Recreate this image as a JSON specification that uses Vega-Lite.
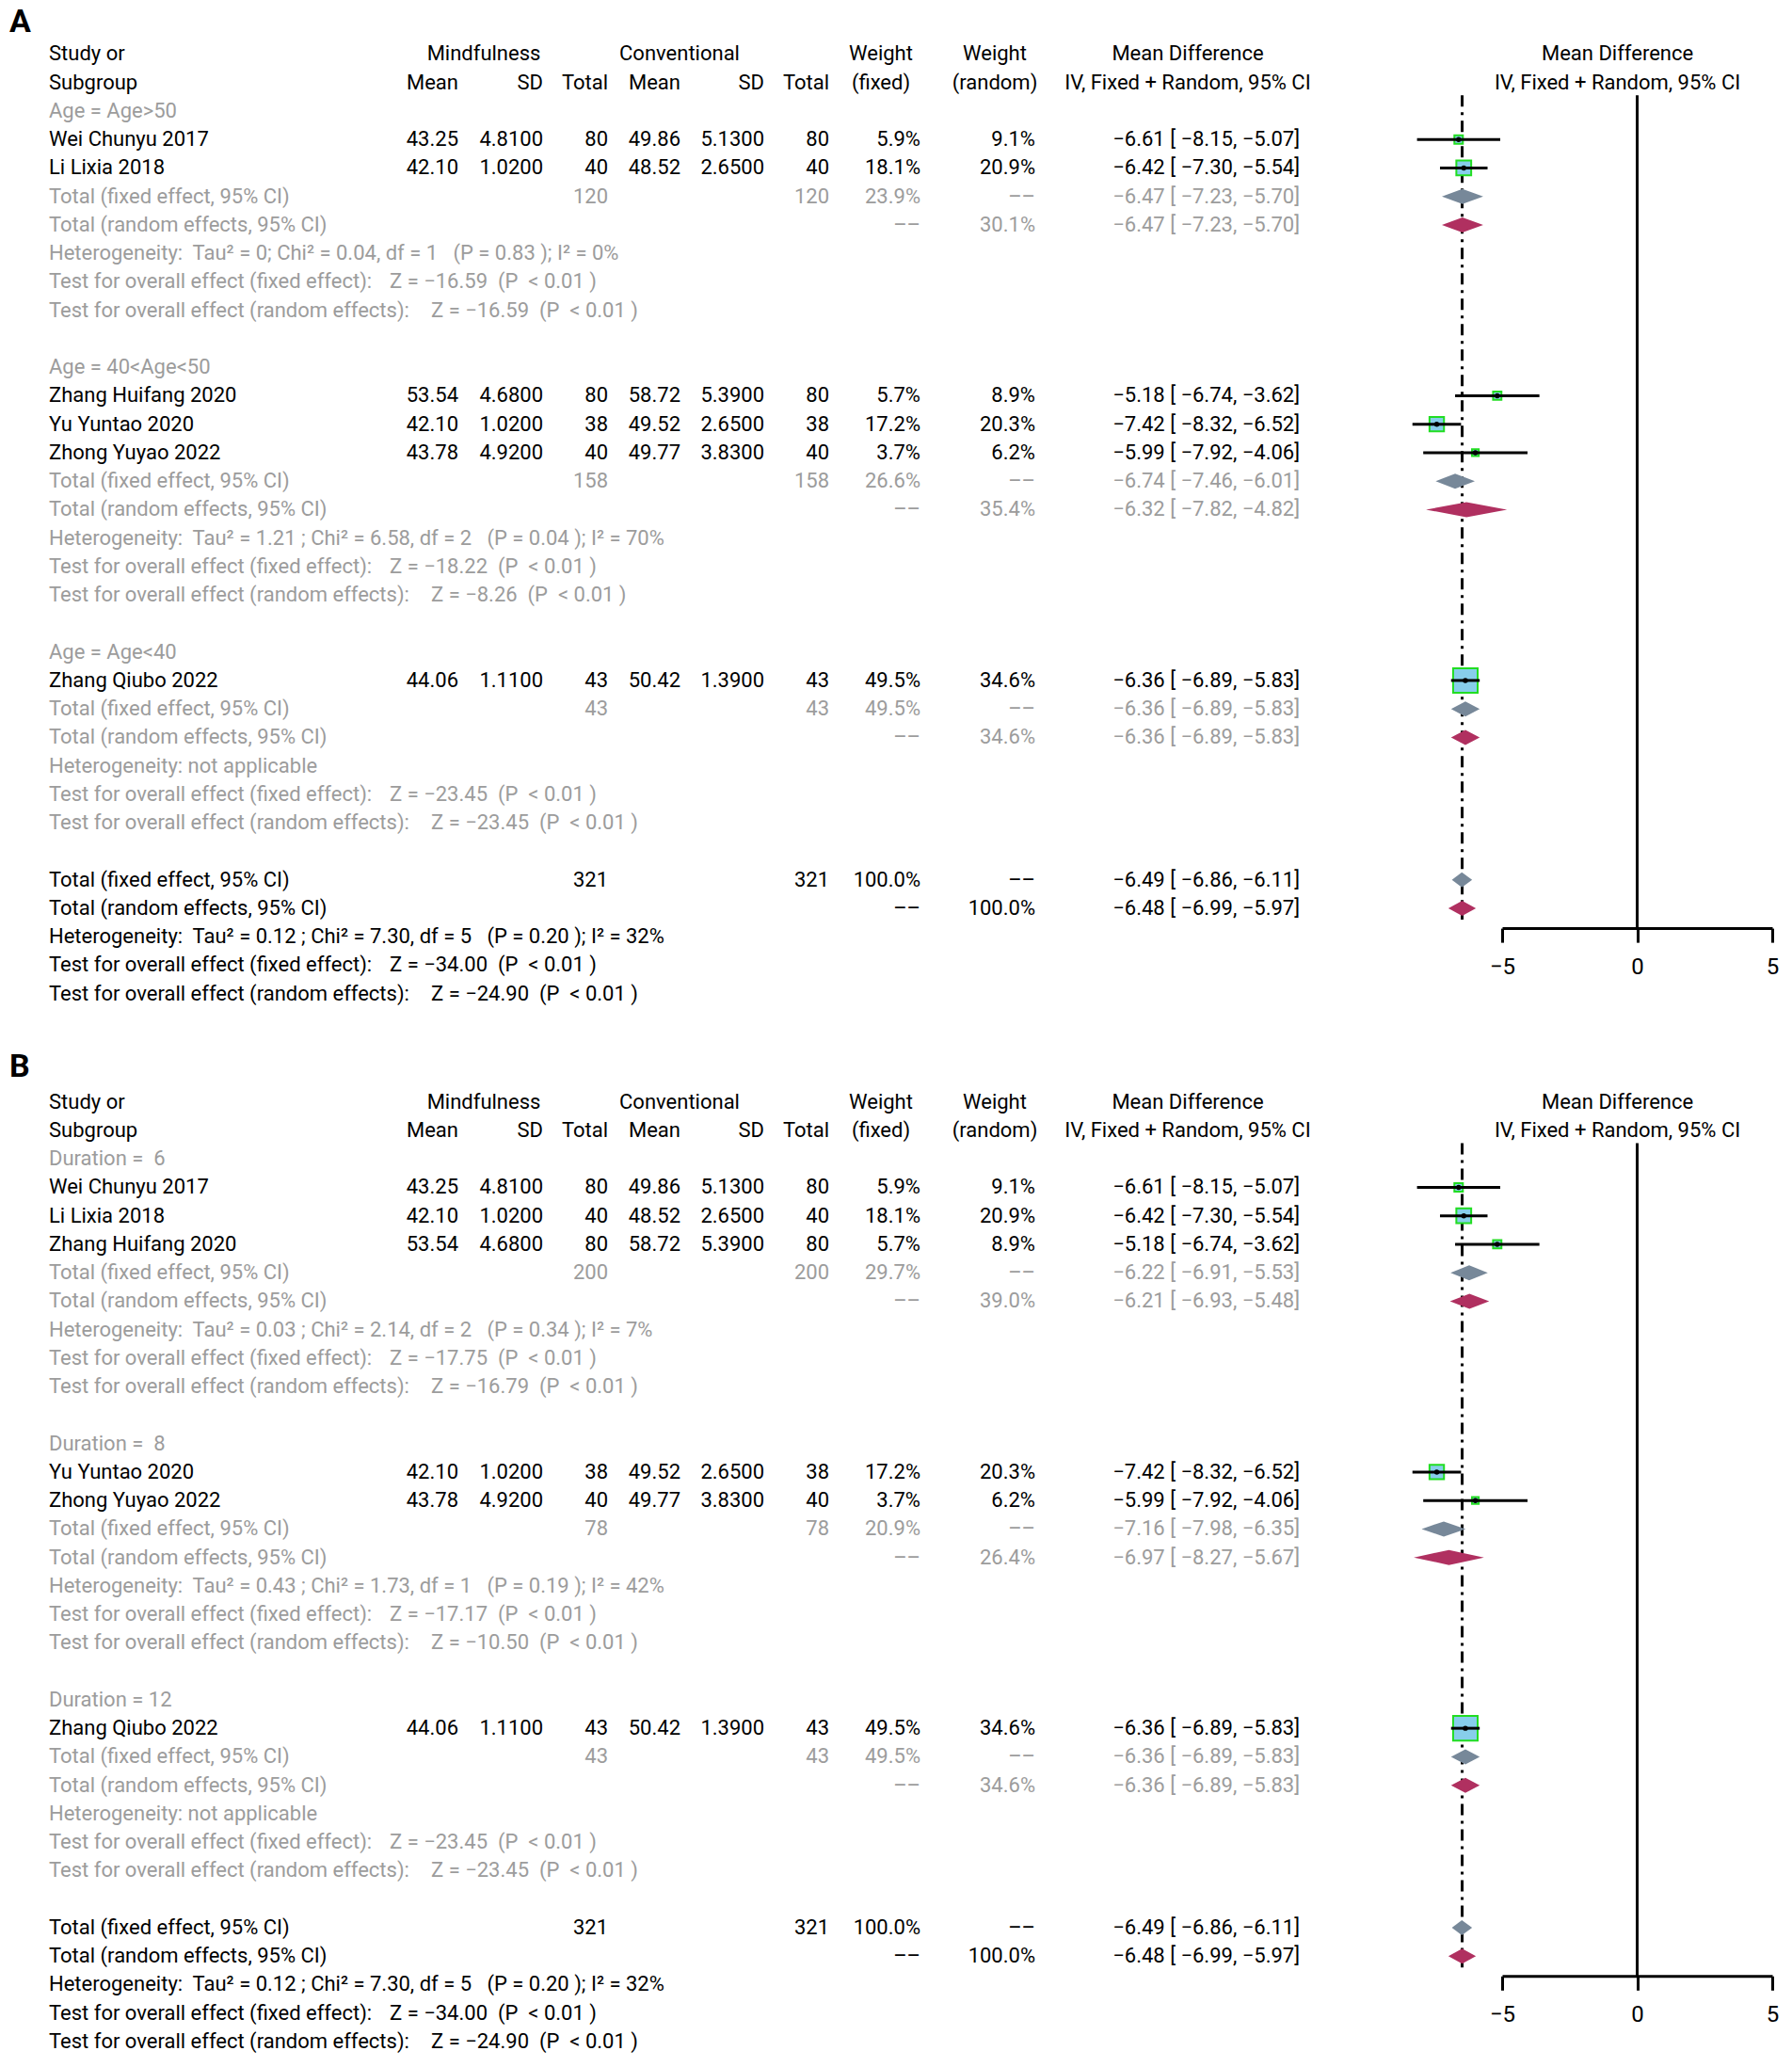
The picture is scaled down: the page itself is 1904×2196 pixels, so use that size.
{
  "$schema": "https://vega.github.io/schema/vega-lite/v6.json",
  "padding": {"left": 0, "top": 3, "right": 5, "bottom": 5},
  "spacing": 45.2,
  "resolve": {"scale": {"color": "independent", "fill": "independent"}},
  "config": {"view": {"stroke": null}, "font": "Roboto", "text": {"font": "Roboto", "fontSize": 22}},
  "datasets": {
    "t": [
      {"p":"A","r":-1.1,"k":"hdr","lbl":"A"},
      {"p":"A","r":0,"k":"hdr","s":"Study or","hm":"Mindfulness","hc":"Conventional","hwf":"Weight","hwr":"Weight","hci":"Mean Difference","hp":"Mean Difference"},
      {"p":"A","r":1,"k":"hdr","s":"Subgroup","m1":"Mean","sd1":"SD","n1":"Total","m2":"Mean","sd2":"SD","n2":"Total","hwf":"(fixed)","hwr":"(random)","hci":"IV, Fixed + Random, 95% CI","hp":"IV, Fixed + Random, 95% CI"},
      {"p":"A","r":2,"k":"lab","s":"Age = Age>50"},
      {"p":"A","r":3,"k":"study","s":"Wei Chunyu 2017","m1":"43.25","sd1":"4.8100","n1":"80","m2":"49.86","sd2":"5.1300","n2":"80","wf":"5.9%","wr":"9.1%","ci":"−6.61 [ −8.15, −5.07]","est":-6.61,"lo":-8.15,"hi":-5.07,"w":5.9},
      {"p":"A","r":4,"k":"study","s":"Li Lixia 2018","m1":"42.10","sd1":"1.0200","n1":"40","m2":"48.52","sd2":"2.6500","n2":"40","wf":"18.1%","wr":"20.9%","ci":"−6.42 [ −7.30, −5.54]","est":-6.42,"lo":-7.30,"hi":-5.54,"w":18.1},
      {"p":"A","r":5,"k":"sub","ty":"fixed","s":"Total (fixed effect, 95% CI)","n1":"120","n2":"120","wf":"23.9%","wr":"––","ci":"−6.47 [ −7.23, −5.70]","est":-6.47,"lo":-7.23,"hi":-5.70},
      {"p":"A","r":6,"k":"sub","ty":"random","s":"Total (random effects, 95% CI)","wf":"––","wr":"30.1%","ci":"−6.47 [ −7.23, −5.70]","est":-6.47,"lo":-7.23,"hi":-5.70},
      {"p":"A","r":7,"k":"sub","s":"Heterogeneity:\u00a0 Tau² = 0; Chi² = 0.04, df = 1\u00a0\u00a0 (P = 0.83 ); I² = 0%"},
      {"p":"A","r":8,"k":"sub","s":"Test for overall effect (fixed effect):","zf":"Z = −16.59\u00a0 (P\u00a0 < 0.01 )"},
      {"p":"A","r":9,"k":"sub","s":"Test for overall effect (random effects):","zr":"Z = −16.59\u00a0 (P\u00a0 < 0.01 )"},
      {"p":"A","r":11,"k":"lab","s":"Age = 40<Age<50"},
      {"p":"A","r":12,"k":"study","s":"Zhang Huifang 2020","m1":"53.54","sd1":"4.6800","n1":"80","m2":"58.72","sd2":"5.3900","n2":"80","wf":"5.7%","wr":"8.9%","ci":"−5.18 [ −6.74, −3.62]","est":-5.18,"lo":-6.74,"hi":-3.62,"w":5.7},
      {"p":"A","r":13,"k":"study","s":"Yu Yuntao 2020","m1":"42.10","sd1":"1.0200","n1":"38","m2":"49.52","sd2":"2.6500","n2":"38","wf":"17.2%","wr":"20.3%","ci":"−7.42 [ −8.32, −6.52]","est":-7.42,"lo":-8.32,"hi":-6.52,"w":17.2},
      {"p":"A","r":14,"k":"study","s":"Zhong Yuyao 2022","m1":"43.78","sd1":"4.9200","n1":"40","m2":"49.77","sd2":"3.8300","n2":"40","wf":"3.7%","wr":"6.2%","ci":"−5.99 [ −7.92, −4.06]","est":-5.99,"lo":-7.92,"hi":-4.06,"w":3.7},
      {"p":"A","r":15,"k":"sub","ty":"fixed","s":"Total (fixed effect, 95% CI)","n1":"158","n2":"158","wf":"26.6%","wr":"––","ci":"−6.74 [ −7.46, −6.01]","est":-6.74,"lo":-7.46,"hi":-6.01},
      {"p":"A","r":16,"k":"sub","ty":"random","s":"Total (random effects, 95% CI)","wf":"––","wr":"35.4%","ci":"−6.32 [ −7.82, −4.82]","est":-6.32,"lo":-7.82,"hi":-4.82},
      {"p":"A","r":17,"k":"sub","s":"Heterogeneity:\u00a0 Tau² = 1.21 ; Chi² = 6.58, df = 2\u00a0\u00a0 (P = 0.04 ); I² = 70%"},
      {"p":"A","r":18,"k":"sub","s":"Test for overall effect (fixed effect):","zf":"Z = −18.22\u00a0 (P\u00a0 < 0.01 )"},
      {"p":"A","r":19,"k":"sub","s":"Test for overall effect (random effects):","zr":"Z = −8.26\u00a0 (P\u00a0 < 0.01 )"},
      {"p":"A","r":21,"k":"lab","s":"Age = Age<40"},
      {"p":"A","r":22,"k":"study","s":"Zhang Qiubo 2022","m1":"44.06","sd1":"1.1100","n1":"43","m2":"50.42","sd2":"1.3900","n2":"43","wf":"49.5%","wr":"34.6%","ci":"−6.36 [ −6.89, −5.83]","est":-6.36,"lo":-6.89,"hi":-5.83,"w":49.5},
      {"p":"A","r":23,"k":"sub","ty":"fixed","s":"Total (fixed effect, 95% CI)","n1":"43","n2":"43","wf":"49.5%","wr":"––","ci":"−6.36 [ −6.89, −5.83]","est":-6.36,"lo":-6.89,"hi":-5.83},
      {"p":"A","r":24,"k":"sub","ty":"random","s":"Total (random effects, 95% CI)","wf":"––","wr":"34.6%","ci":"−6.36 [ −6.89, −5.83]","est":-6.36,"lo":-6.89,"hi":-5.83},
      {"p":"A","r":25,"k":"sub","s":"Heterogeneity: not applicable"},
      {"p":"A","r":26,"k":"sub","s":"Test for overall effect (fixed effect):","zf":"Z = −23.45\u00a0 (P\u00a0 < 0.01 )"},
      {"p":"A","r":27,"k":"sub","s":"Test for overall effect (random effects):","zr":"Z = −23.45\u00a0 (P\u00a0 < 0.01 )"},
      {"p":"A","r":29,"k":"tot","ty":"fixed","s":"Total (fixed effect, 95% CI)","n1":"321","n2":"321","wf":"100.0%","wr":"––","ci":"−6.49 [ −6.86, −6.11]","est":-6.49,"lo":-6.86,"hi":-6.11},
      {"p":"A","r":30,"k":"tot","ty":"random","s":"Total (random effects, 95% CI)","wf":"––","wr":"100.0%","ci":"−6.48 [ −6.99, −5.97]","est":-6.48,"lo":-6.99,"hi":-5.97},
      {"p":"A","r":31,"k":"tot","s":"Heterogeneity:\u00a0 Tau² = 0.12 ; Chi² = 7.30, df = 5\u00a0\u00a0 (P = 0.20 ); I² = 32%"},
      {"p":"A","r":32,"k":"tot","s":"Test for overall effect (fixed effect):","zf":"Z = −34.00\u00a0 (P\u00a0 < 0.01 )"},
      {"p":"A","r":33,"k":"tot","s":"Test for overall effect (random effects):","zr":"Z = −24.90\u00a0 (P\u00a0 < 0.01 )"},

      {"p":"B","r":-1.2,"k":"hdr","lbl":"B"},
      {"p":"B","r":0,"k":"hdr","s":"Study or","hm":"Mindfulness","hc":"Conventional","hwf":"Weight","hwr":"Weight","hci":"Mean Difference","hp":"Mean Difference"},
      {"p":"B","r":1,"k":"hdr","s":"Subgroup","m1":"Mean","sd1":"SD","n1":"Total","m2":"Mean","sd2":"SD","n2":"Total","hwf":"(fixed)","hwr":"(random)","hci":"IV, Fixed + Random, 95% CI","hp":"IV, Fixed + Random, 95% CI"},
      {"p":"B","r":2,"k":"lab","s":"Duration = \u00a06"},
      {"p":"B","r":3,"k":"study","s":"Wei Chunyu 2017","m1":"43.25","sd1":"4.8100","n1":"80","m2":"49.86","sd2":"5.1300","n2":"80","wf":"5.9%","wr":"9.1%","ci":"−6.61 [ −8.15, −5.07]","est":-6.61,"lo":-8.15,"hi":-5.07,"w":5.9},
      {"p":"B","r":4,"k":"study","s":"Li Lixia 2018","m1":"42.10","sd1":"1.0200","n1":"40","m2":"48.52","sd2":"2.6500","n2":"40","wf":"18.1%","wr":"20.9%","ci":"−6.42 [ −7.30, −5.54]","est":-6.42,"lo":-7.30,"hi":-5.54,"w":18.1},
      {"p":"B","r":5,"k":"study","s":"Zhang Huifang 2020","m1":"53.54","sd1":"4.6800","n1":"80","m2":"58.72","sd2":"5.3900","n2":"80","wf":"5.7%","wr":"8.9%","ci":"−5.18 [ −6.74, −3.62]","est":-5.18,"lo":-6.74,"hi":-3.62,"w":5.7},
      {"p":"B","r":6,"k":"sub","ty":"fixed","s":"Total (fixed effect, 95% CI)","n1":"200","n2":"200","wf":"29.7%","wr":"––","ci":"−6.22 [ −6.91, −5.53]","est":-6.22,"lo":-6.91,"hi":-5.53},
      {"p":"B","r":7,"k":"sub","ty":"random","s":"Total (random effects, 95% CI)","wf":"––","wr":"39.0%","ci":"−6.21 [ −6.93, −5.48]","est":-6.21,"lo":-6.93,"hi":-5.48},
      {"p":"B","r":8,"k":"sub","s":"Heterogeneity:\u00a0 Tau² = 0.03 ; Chi² = 2.14, df = 2\u00a0\u00a0 (P = 0.34 ); I² = 7%"},
      {"p":"B","r":9,"k":"sub","s":"Test for overall effect (fixed effect):","zf":"Z = −17.75\u00a0 (P\u00a0 < 0.01 )"},
      {"p":"B","r":10,"k":"sub","s":"Test for overall effect (random effects):","zr":"Z = −16.79\u00a0 (P\u00a0 < 0.01 )"},
      {"p":"B","r":12,"k":"lab","s":"Duration = \u00a08"},
      {"p":"B","r":13,"k":"study","s":"Yu Yuntao 2020","m1":"42.10","sd1":"1.0200","n1":"38","m2":"49.52","sd2":"2.6500","n2":"38","wf":"17.2%","wr":"20.3%","ci":"−7.42 [ −8.32, −6.52]","est":-7.42,"lo":-8.32,"hi":-6.52,"w":17.2},
      {"p":"B","r":14,"k":"study","s":"Zhong Yuyao 2022","m1":"43.78","sd1":"4.9200","n1":"40","m2":"49.77","sd2":"3.8300","n2":"40","wf":"3.7%","wr":"6.2%","ci":"−5.99 [ −7.92, −4.06]","est":-5.99,"lo":-7.92,"hi":-4.06,"w":3.7},
      {"p":"B","r":15,"k":"sub","ty":"fixed","s":"Total (fixed effect, 95% CI)","n1":"78","n2":"78","wf":"20.9%","wr":"––","ci":"−7.16 [ −7.98, −6.35]","est":-7.16,"lo":-7.98,"hi":-6.35},
      {"p":"B","r":16,"k":"sub","ty":"random","s":"Total (random effects, 95% CI)","wf":"––","wr":"26.4%","ci":"−6.97 [ −8.27, −5.67]","est":-6.97,"lo":-8.27,"hi":-5.67},
      {"p":"B","r":17,"k":"sub","s":"Heterogeneity:\u00a0 Tau² = 0.43 ; Chi² = 1.73, df = 1\u00a0\u00a0 (P = 0.19 ); I² = 42%"},
      {"p":"B","r":18,"k":"sub","s":"Test for overall effect (fixed effect):","zf":"Z = −17.17\u00a0 (P\u00a0 < 0.01 )"},
      {"p":"B","r":19,"k":"sub","s":"Test for overall effect (random effects):","zr":"Z = −10.50\u00a0 (P\u00a0 < 0.01 )"},
      {"p":"B","r":21,"k":"lab","s":"Duration = 12"},
      {"p":"B","r":22,"k":"study","s":"Zhang Qiubo 2022","m1":"44.06","sd1":"1.1100","n1":"43","m2":"50.42","sd2":"1.3900","n2":"43","wf":"49.5%","wr":"34.6%","ci":"−6.36 [ −6.89, −5.83]","est":-6.36,"lo":-6.89,"hi":-5.83,"w":49.5},
      {"p":"B","r":23,"k":"sub","ty":"fixed","s":"Total (fixed effect, 95% CI)","n1":"43","n2":"43","wf":"49.5%","wr":"––","ci":"−6.36 [ −6.89, −5.83]","est":-6.36,"lo":-6.89,"hi":-5.83},
      {"p":"B","r":24,"k":"sub","ty":"random","s":"Total (random effects, 95% CI)","wf":"––","wr":"34.6%","ci":"−6.36 [ −6.89, −5.83]","est":-6.36,"lo":-6.89,"hi":-5.83},
      {"p":"B","r":25,"k":"sub","s":"Heterogeneity: not applicable"},
      {"p":"B","r":26,"k":"sub","s":"Test for overall effect (fixed effect):","zf":"Z = −23.45\u00a0 (P\u00a0 < 0.01 )"},
      {"p":"B","r":27,"k":"sub","s":"Test for overall effect (random effects):","zr":"Z = −23.45\u00a0 (P\u00a0 < 0.01 )"},
      {"p":"B","r":29,"k":"tot","ty":"fixed","s":"Total (fixed effect, 95% CI)","n1":"321","n2":"321","wf":"100.0%","wr":"––","ci":"−6.49 [ −6.86, −6.11]","est":-6.49,"lo":-6.86,"hi":-6.11},
      {"p":"B","r":30,"k":"tot","ty":"random","s":"Total (random effects, 95% CI)","wf":"––","wr":"100.0%","ci":"−6.48 [ −6.99, −5.97]","est":-6.48,"lo":-6.99,"hi":-5.97},
      {"p":"B","r":31,"k":"tot","s":"Heterogeneity:\u00a0 Tau² = 0.12 ; Chi² = 7.30, df = 5\u00a0\u00a0 (P = 0.20 ); I² = 32%"},
      {"p":"B","r":32,"k":"tot","s":"Test for overall effect (fixed effect):","zf":"Z = −34.00\u00a0 (P\u00a0 < 0.01 )"},
      {"p":"B","r":33,"k":"tot","s":"Test for overall effect (random effects):","zr":"Z = −24.90\u00a0 (P\u00a0 < 0.01 )"}
    ]
  },
  "vconcat": [
    {
      "bounds": "flush",
      "spacing": 96,
      "resolve": {"scale": {"color": "independent", "fill": "independent"}},
      "hconcat": [
        {
          "width": 1500, "height": 1067.8,
          "data": {"name": "t"},
          "transform": [{"filter": "datum.p == 'A'"}],
          "encoding": {
            "y": {"field": "r", "type": "quantitative", "scale": {"domain": [-1.8, 33.5], "reverse": true, "nice": false, "zero": false}, "axis": null},
            "color": {"field": "k", "type": "nominal", "scale": {"domain": ["hdr","lab","study","sub","tot"], "range": ["#000000","#9c9c9c","#000000","#9c9c9c","#000000"]}, "legend": null}
          },
          "layer": [
            {"transform": [{"filter": "isValid(datum.lbl)"}], "mark": {"type": "text", "align": "left", "baseline": "middle", "fontSize": 34, "fontWeight": "bold"}, "encoding": {"x": {"datum": 10, "type": "quantitative", "scale": {"domain": [0, 1500], "nice": false, "zero": false}, "axis": null}, "text": {"field": "lbl"}}},
            {"transform": [{"filter": "isValid(datum.s)"}], "mark": {"type": "text", "align": "left", "baseline": "middle"}, "encoding": {"x": {"datum": 52, "type": "quantitative", "axis": null}, "text": {"field": "s"}}},
            {"transform": [{"filter": "isValid(datum.zf)"}], "mark": {"type": "text", "align": "left", "baseline": "middle"}, "encoding": {"x": {"datum": 414, "type": "quantitative", "axis": null}, "text": {"field": "zf"}}},
            {"transform": [{"filter": "isValid(datum.zr)"}], "mark": {"type": "text", "align": "left", "baseline": "middle"}, "encoding": {"x": {"datum": 458, "type": "quantitative", "axis": null}, "text": {"field": "zr"}}},
            {"transform": [{"filter": "isValid(datum.m1)"}], "mark": {"type": "text", "align": "right", "baseline": "middle"}, "encoding": {"x": {"datum": 487, "type": "quantitative", "axis": null}, "text": {"field": "m1"}}},
            {"transform": [{"filter": "isValid(datum.sd1)"}], "mark": {"type": "text", "align": "right", "baseline": "middle"}, "encoding": {"x": {"datum": 577, "type": "quantitative", "axis": null}, "text": {"field": "sd1"}}},
            {"transform": [{"filter": "isValid(datum.n1)"}], "mark": {"type": "text", "align": "right", "baseline": "middle"}, "encoding": {"x": {"datum": 646, "type": "quantitative", "axis": null}, "text": {"field": "n1"}}},
            {"transform": [{"filter": "isValid(datum.m2)"}], "mark": {"type": "text", "align": "right", "baseline": "middle"}, "encoding": {"x": {"datum": 723, "type": "quantitative", "axis": null}, "text": {"field": "m2"}}},
            {"transform": [{"filter": "isValid(datum.sd2)"}], "mark": {"type": "text", "align": "right", "baseline": "middle"}, "encoding": {"x": {"datum": 812, "type": "quantitative", "axis": null}, "text": {"field": "sd2"}}},
            {"transform": [{"filter": "isValid(datum.n2)"}], "mark": {"type": "text", "align": "right", "baseline": "middle"}, "encoding": {"x": {"datum": 881, "type": "quantitative", "axis": null}, "text": {"field": "n2"}}},
            {"transform": [{"filter": "isValid(datum.wf)"}], "mark": {"type": "text", "align": "right", "baseline": "middle"}, "encoding": {"x": {"datum": 978, "type": "quantitative", "axis": null}, "text": {"field": "wf"}}},
            {"transform": [{"filter": "isValid(datum.wr)"}], "mark": {"type": "text", "align": "right", "baseline": "middle"}, "encoding": {"x": {"datum": 1100, "type": "quantitative", "axis": null}, "text": {"field": "wr"}}},
            {"transform": [{"filter": "isValid(datum.ci)"}], "mark": {"type": "text", "align": "right", "baseline": "middle"}, "encoding": {"x": {"datum": 1381, "type": "quantitative", "axis": null}, "text": {"field": "ci"}}},
            {"transform": [{"filter": "isValid(datum.hm)"}], "mark": {"type": "text", "align": "center", "baseline": "middle"}, "encoding": {"x": {"datum": 514, "type": "quantitative", "axis": null}, "text": {"field": "hm"}}},
            {"transform": [{"filter": "isValid(datum.hc)"}], "mark": {"type": "text", "align": "center", "baseline": "middle"}, "encoding": {"x": {"datum": 722, "type": "quantitative", "axis": null}, "text": {"field": "hc"}}},
            {"transform": [{"filter": "isValid(datum.hwf)"}], "mark": {"type": "text", "align": "center", "baseline": "middle"}, "encoding": {"x": {"datum": 936, "type": "quantitative", "axis": null}, "text": {"field": "hwf"}}},
            {"transform": [{"filter": "isValid(datum.hwr)"}], "mark": {"type": "text", "align": "center", "baseline": "middle"}, "encoding": {"x": {"datum": 1057, "type": "quantitative", "axis": null}, "text": {"field": "hwr"}}},
            {"transform": [{"filter": "isValid(datum.hci)"}], "mark": {"type": "text", "align": "center", "baseline": "middle"}, "encoding": {"x": {"datum": 1262, "type": "quantitative", "axis": null}, "text": {"field": "hci"}}}
          ]
        },
        {
          "width": 287, "height": 983.1,
          "data": {"name": "t"},
          "transform": [{"filter": "datum.p == 'A'"}],
          "layer": [
            {"transform": [{"filter": "datum.k == 'tot' && datum.ty == 'random'"}], "mark": {"type": "rule", "strokeWidth": 3, "color": "#000000"},
             "encoding": {
               "x": {"datum": 0, "type": "quantitative", "scale": {"domain": [-5, 5], "nice": false, "zero": false}, "axis": {"values": [-5, 0, 5], "title": null, "grid": false, "domain": true, "domainColor": "#000000", "domainWidth": 3, "ticks": true, "tickColor": "#000000", "tickWidth": 3, "tickSize": 15, "labelFont": "Roboto", "labelFontSize": 24, "labelColor": "#000000", "labelPadding": 14, "format": "d", "labelFlush": false, "labelOverlap": false}},
               "y": {"datum": 1.45, "type": "quantitative", "scale": {"domain": [-1.8, 30.7], "reverse": true, "nice": false, "zero": false}, "axis": null},
               "y2": {"datum": 30.7}
             }},
            {"transform": [{"filter": "datum.k == 'tot' && datum.ty == 'random'"}], "mark": {"type": "rule", "strokeWidth": 3, "color": "#000000", "strokeDash": [12, 6, 3, 6]},
             "encoding": {"x": {"field": "est", "type": "quantitative"}, "y": {"datum": 1.45, "type": "quantitative"}, "y2": {"datum": 30.4}}},
            {"transform": [{"filter": "(datum.k == 'sub' || datum.k == 'tot') && isValid(datum.est)"}, {"fold": ["lo", "est", "hi"], "as": ["pt", "v"]}],
             "mark": {"type": "area", "orient": "vertical", "opacity": 1, "yOffset": {"expr": "datum.pt == 'est' ? -8 : 0"}, "y2Offset": {"expr": "datum.pt == 'est' ? 8 : 0"}},
             "encoding": {
               "x": {"field": "v", "type": "quantitative"},
               "y": {"field": "r", "type": "quantitative", "stack": null},
               "y2": {"field": "r"},
               "detail": {"field": "r"},
               "fill": {"field": "ty", "type": "nominal", "scale": {"domain": ["fixed", "random"], "range": ["#778899", "#B03060"]}, "legend": null}
             }},
            {"transform": [{"filter": "datum.k == 'study'"}], "mark": {"type": "point", "shape": "square", "filled": true, "fill": "#87CEEB", "stroke": "#22DD22", "strokeWidth": 2, "opacity": 1},
             "encoding": {"x": {"field": "est", "type": "quantitative"}, "y": {"field": "r", "type": "quantitative"}, "size": {"field": "w", "type": "quantitative", "scale": {"domain": [0, 49.5], "range": [0, 680]}, "legend": null}}},
            {"transform": [{"filter": "datum.k == 'study'"}], "mark": {"type": "rule", "strokeWidth": 3, "color": "#000000"},
             "encoding": {"x": {"field": "lo", "type": "quantitative"}, "x2": {"field": "hi"}, "y": {"field": "r", "type": "quantitative"}}},
            {"transform": [{"filter": "datum.k == 'study'"}], "mark": {"type": "point", "shape": "circle", "filled": true, "color": "#000000", "size": 30, "opacity": 1},
             "encoding": {"x": {"field": "est", "type": "quantitative"}, "y": {"field": "r", "type": "quantitative"}}},
            {"transform": [{"filter": "isValid(datum.hp)"}], "mark": {"type": "text", "align": "center", "baseline": "middle", "color": "#000000"},
             "encoding": {"x": {"datum": -0.73, "type": "quantitative"}, "y": {"field": "r", "type": "quantitative"}, "text": {"field": "hp"}}}
          ]
        }
      ]
    },
    {
      "bounds": "flush",
      "spacing": 96,
      "resolve": {"scale": {"color": "independent", "fill": "independent"}},
      "hconcat": [
        {
          "width": 1500, "height": 1067.8,
          "data": {"name": "t"},
          "transform": [{"filter": "datum.p == 'B'"}],
          "encoding": {
            "y": {"field": "r", "type": "quantitative", "scale": {"domain": [-1.8, 33.5], "reverse": true, "nice": false, "zero": false}, "axis": null},
            "color": {"field": "k", "type": "nominal", "scale": {"domain": ["hdr","lab","study","sub","tot"], "range": ["#000000","#9c9c9c","#000000","#9c9c9c","#000000"]}, "legend": null}
          },
          "layer": [
            {"transform": [{"filter": "isValid(datum.lbl)"}], "mark": {"type": "text", "align": "left", "baseline": "middle", "fontSize": 34, "fontWeight": "bold"}, "encoding": {"x": {"datum": 10, "type": "quantitative", "scale": {"domain": [0, 1500], "nice": false, "zero": false}, "axis": null}, "text": {"field": "lbl"}}},
            {"transform": [{"filter": "isValid(datum.s)"}], "mark": {"type": "text", "align": "left", "baseline": "middle"}, "encoding": {"x": {"datum": 52, "type": "quantitative", "axis": null}, "text": {"field": "s"}}},
            {"transform": [{"filter": "isValid(datum.zf)"}], "mark": {"type": "text", "align": "left", "baseline": "middle"}, "encoding": {"x": {"datum": 414, "type": "quantitative", "axis": null}, "text": {"field": "zf"}}},
            {"transform": [{"filter": "isValid(datum.zr)"}], "mark": {"type": "text", "align": "left", "baseline": "middle"}, "encoding": {"x": {"datum": 458, "type": "quantitative", "axis": null}, "text": {"field": "zr"}}},
            {"transform": [{"filter": "isValid(datum.m1)"}], "mark": {"type": "text", "align": "right", "baseline": "middle"}, "encoding": {"x": {"datum": 487, "type": "quantitative", "axis": null}, "text": {"field": "m1"}}},
            {"transform": [{"filter": "isValid(datum.sd1)"}], "mark": {"type": "text", "align": "right", "baseline": "middle"}, "encoding": {"x": {"datum": 577, "type": "quantitative", "axis": null}, "text": {"field": "sd1"}}},
            {"transform": [{"filter": "isValid(datum.n1)"}], "mark": {"type": "text", "align": "right", "baseline": "middle"}, "encoding": {"x": {"datum": 646, "type": "quantitative", "axis": null}, "text": {"field": "n1"}}},
            {"transform": [{"filter": "isValid(datum.m2)"}], "mark": {"type": "text", "align": "right", "baseline": "middle"}, "encoding": {"x": {"datum": 723, "type": "quantitative", "axis": null}, "text": {"field": "m2"}}},
            {"transform": [{"filter": "isValid(datum.sd2)"}], "mark": {"type": "text", "align": "right", "baseline": "middle"}, "encoding": {"x": {"datum": 812, "type": "quantitative", "axis": null}, "text": {"field": "sd2"}}},
            {"transform": [{"filter": "isValid(datum.n2)"}], "mark": {"type": "text", "align": "right", "baseline": "middle"}, "encoding": {"x": {"datum": 881, "type": "quantitative", "axis": null}, "text": {"field": "n2"}}},
            {"transform": [{"filter": "isValid(datum.wf)"}], "mark": {"type": "text", "align": "right", "baseline": "middle"}, "encoding": {"x": {"datum": 978, "type": "quantitative", "axis": null}, "text": {"field": "wf"}}},
            {"transform": [{"filter": "isValid(datum.wr)"}], "mark": {"type": "text", "align": "right", "baseline": "middle"}, "encoding": {"x": {"datum": 1100, "type": "quantitative", "axis": null}, "text": {"field": "wr"}}},
            {"transform": [{"filter": "isValid(datum.ci)"}], "mark": {"type": "text", "align": "right", "baseline": "middle"}, "encoding": {"x": {"datum": 1381, "type": "quantitative", "axis": null}, "text": {"field": "ci"}}},
            {"transform": [{"filter": "isValid(datum.hm)"}], "mark": {"type": "text", "align": "center", "baseline": "middle"}, "encoding": {"x": {"datum": 514, "type": "quantitative", "axis": null}, "text": {"field": "hm"}}},
            {"transform": [{"filter": "isValid(datum.hc)"}], "mark": {"type": "text", "align": "center", "baseline": "middle"}, "encoding": {"x": {"datum": 722, "type": "quantitative", "axis": null}, "text": {"field": "hc"}}},
            {"transform": [{"filter": "isValid(datum.hwf)"}], "mark": {"type": "text", "align": "center", "baseline": "middle"}, "encoding": {"x": {"datum": 936, "type": "quantitative", "axis": null}, "text": {"field": "hwf"}}},
            {"transform": [{"filter": "isValid(datum.hwr)"}], "mark": {"type": "text", "align": "center", "baseline": "middle"}, "encoding": {"x": {"datum": 1057, "type": "quantitative", "axis": null}, "text": {"field": "hwr"}}},
            {"transform": [{"filter": "isValid(datum.hci)"}], "mark": {"type": "text", "align": "center", "baseline": "middle"}, "encoding": {"x": {"datum": 1262, "type": "quantitative", "axis": null}, "text": {"field": "hci"}}}
          ]
        },
        {
          "width": 287, "height": 983.1,
          "data": {"name": "t"},
          "transform": [{"filter": "datum.p == 'B'"}],
          "layer": [
            {"transform": [{"filter": "datum.k == 'tot' && datum.ty == 'random'"}], "mark": {"type": "rule", "strokeWidth": 3, "color": "#000000"},
             "encoding": {
               "x": {"datum": 0, "type": "quantitative", "scale": {"domain": [-5, 5], "nice": false, "zero": false}, "axis": {"values": [-5, 0, 5], "title": null, "grid": false, "domain": true, "domainColor": "#000000", "domainWidth": 3, "ticks": true, "tickColor": "#000000", "tickWidth": 3, "tickSize": 15, "labelFont": "Roboto", "labelFontSize": 24, "labelColor": "#000000", "labelPadding": 14, "format": "d", "labelFlush": false, "labelOverlap": false}},
               "y": {"datum": 1.45, "type": "quantitative", "scale": {"domain": [-1.8, 30.7], "reverse": true, "nice": false, "zero": false}, "axis": null},
               "y2": {"datum": 30.7}
             }},
            {"transform": [{"filter": "datum.k == 'tot' && datum.ty == 'random'"}], "mark": {"type": "rule", "strokeWidth": 3, "color": "#000000", "strokeDash": [12, 6, 3, 6]},
             "encoding": {"x": {"field": "est", "type": "quantitative"}, "y": {"datum": 1.45, "type": "quantitative"}, "y2": {"datum": 30.4}}},
            {"transform": [{"filter": "(datum.k == 'sub' || datum.k == 'tot') && isValid(datum.est)"}, {"fold": ["lo", "est", "hi"], "as": ["pt", "v"]}],
             "mark": {"type": "area", "orient": "vertical", "opacity": 1, "yOffset": {"expr": "datum.pt == 'est' ? -8 : 0"}, "y2Offset": {"expr": "datum.pt == 'est' ? 8 : 0"}},
             "encoding": {
               "x": {"field": "v", "type": "quantitative"},
               "y": {"field": "r", "type": "quantitative", "stack": null},
               "y2": {"field": "r"},
               "detail": {"field": "r"},
               "fill": {"field": "ty", "type": "nominal", "scale": {"domain": ["fixed", "random"], "range": ["#778899", "#B03060"]}, "legend": null}
             }},
            {"transform": [{"filter": "datum.k == 'study'"}], "mark": {"type": "point", "shape": "square", "filled": true, "fill": "#87CEEB", "stroke": "#22DD22", "strokeWidth": 2, "opacity": 1},
             "encoding": {"x": {"field": "est", "type": "quantitative"}, "y": {"field": "r", "type": "quantitative"}, "size": {"field": "w", "type": "quantitative", "scale": {"domain": [0, 49.5], "range": [0, 680]}, "legend": null}}},
            {"transform": [{"filter": "datum.k == 'study'"}], "mark": {"type": "rule", "strokeWidth": 3, "color": "#000000"},
             "encoding": {"x": {"field": "lo", "type": "quantitative"}, "x2": {"field": "hi"}, "y": {"field": "r", "type": "quantitative"}}},
            {"transform": [{"filter": "datum.k == 'study'"}], "mark": {"type": "point", "shape": "circle", "filled": true, "color": "#000000", "size": 30, "opacity": 1},
             "encoding": {"x": {"field": "est", "type": "quantitative"}, "y": {"field": "r", "type": "quantitative"}}},
            {"transform": [{"filter": "isValid(datum.hp)"}], "mark": {"type": "text", "align": "center", "baseline": "middle", "color": "#000000"},
             "encoding": {"x": {"datum": -0.73, "type": "quantitative"}, "y": {"field": "r", "type": "quantitative"}, "text": {"field": "hp"}}}
          ]
        }
      ]
    }
  ]
}
